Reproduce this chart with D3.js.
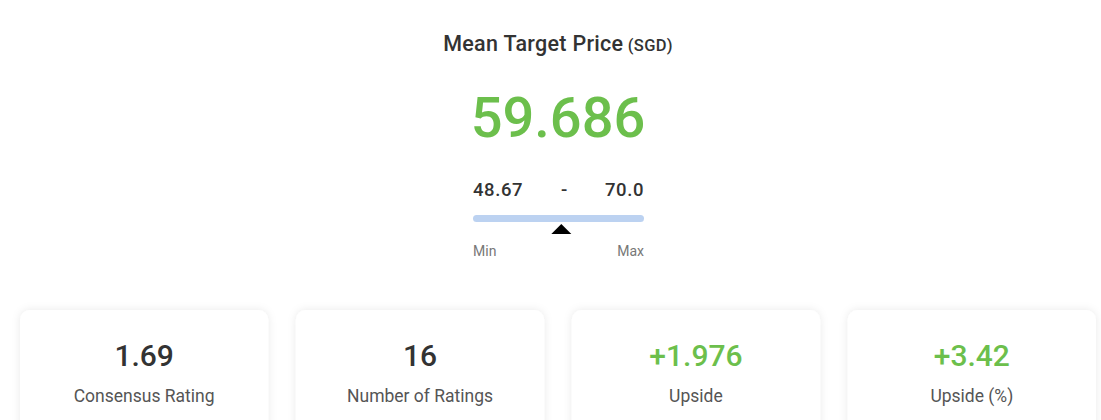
<!DOCTYPE html>
<html lang="en">
<head>
    <meta charset="UTF-8">
    <title>Mean Target Price</title>
    <script src="https://cdn.jsdelivr.net/npm/d3@7"></script>
    <style>
        *{
            margin: 0;
            padding: 0;
        }
        body{
            background: #fff;
            font-family: Roboto, "Noto Sans", sans-serif;
        }
    </style>
</head>
<body>
    <div id="content"></div>

    <script>
        // data
        var titleMain = "Mean Target Price";
        var titleUnit = "(SGD)";
        var meanTarget = 59.686;
        var priceRange = [48.67, 70.0];
        var rangeLabels = ["Min", "Max"];
        var cardLabels = ["Consensus Rating", "Number of Ratings", "Upside", "Upside (%)"];
        var cardValues = ["1.69", "16", "+1.976", "+3.42"];
        var cardGreen = [false, false, true, true];

        var width = 1101;
        var height = 420;
        var green = "#6cbf4c";
        var dark = "#333";

        var svg = d3.select("#content")
                .append("svg")
                .attr("width", width).attr("height", height);

        // soft card shadow
        var defs = svg.append("defs");
        var f = defs.append("filter").attr("id", "shadow")
                .attr("x", "-10%").attr("y", "-20%").attr("width", "120%").attr("height", "140%");
        f.append("feDropShadow").attr("dx", 0).attr("dy", 0).attr("stdDeviation", 4.5)
                .attr("flood-color", "#000").attr("flood-opacity", 0.09);

        var cx = 558;

        /* title */
        var title = svg.append("text")
                .attr("x", cx).attr("y", 51)
                .attr("text-anchor", "middle")
                .attr("fill", dark)
                .attr("letter-spacing", "0.3px");
        title.append("tspan").text(titleMain)
                .attr("font-size", "21.5px").attr("font-weight", 500);
        title.append("tspan").text(" " + titleUnit)
                .attr("font-size", "16.5px").attr("font-weight", 500);

        /* big number */
        svg.append("text")
                .attr("x", cx).attr("y", 137)
                .attr("text-anchor", "middle")
                .attr("fill", green)
                .attr("font-size", "56px")
                .attr("font-weight", 500)
                .text(meanTarget);

        /* range bar */
        var xScale = d3.scaleLinear()
                .domain(priceRange)
                .range([473, 644]);

        var rangeText = [
            {t: String(priceRange[0]), x: xScale(priceRange[0]), a: "start"},
            {t: "-", x: (xScale.range()[0] + xScale.range()[1]) / 2 + 6, a: "middle"},
            {t: priceRange[1].toFixed(1), x: xScale(priceRange[1]), a: "end"}
        ];
        svg.selectAll("text.range").data(rangeText)
                .enter().append("text")
                .attr("class", "range")
                .attr("x", function(d){ return d.x; }).attr("y", 196)
                .attr("text-anchor", function(d){ return d.a; })
                .attr("font-size", "18.5px").attr("font-weight", 500)
                .attr("letter-spacing", "0.6px")
                .attr("fill", dark)
                .text(function(d){ return d.t; });

        svg.append("rect")
                .attr("x", xScale(priceRange[0])).attr("y", 215)
                .attr("width", xScale(priceRange[1]) - xScale(priceRange[0]))
                .attr("height", 7).attr("rx", 3.5)
                .attr("fill", "#bcd2f1");

        var mx = xScale(meanTarget);
        svg.append("path")
                .attr("d", d3.line()([[mx - 10, 234], [mx, 224], [mx + 10, 234]]) + "Z")
                .attr("fill", "#000");

        svg.append("text")
                .attr("x", xScale(priceRange[0])).attr("y", 256)
                .attr("font-size", "14px").attr("fill", "#777")
                .text(rangeLabels[0]);
        svg.append("text")
                .attr("x", xScale(priceRange[1])).attr("y", 256)
                .attr("text-anchor", "end")
                .attr("font-size", "14px").attr("fill", "#777")
                .text(rangeLabels[1]);

        /* cards */
        var cardScale = d3.scaleBand()
                .domain(cardLabels)
                .range([20, 1096])
                .paddingInner(0.1);

        var cards = svg.selectAll("g.card").data(cardLabels)
                .enter().append("g")
                .attr("class", "card")
                .attr("transform", function(d){
                    return "translate(" + cardScale(d) + ",310)";
                });

        cards.append("rect")
                .attr("width", cardScale.bandwidth())
                .attr("height", 130)
                .attr("rx", 10)
                .attr("fill", "#fff")
                .attr("filter", "url(#shadow)");

        cards.append("text")
                .attr("x", cardScale.bandwidth() / 2).attr("y", 56)
                .attr("text-anchor", "middle")
                .attr("font-size", "30px").attr("font-weight", 500)
                .attr("fill", function(d, i){ return cardGreen[i] ? green : dark; })
                .text(function(d, i){ return cardValues[i]; });

        cards.append("text")
                .attr("x", cardScale.bandwidth() / 2).attr("y", 92)
                .attr("text-anchor", "middle")
                .attr("font-size", "17.5px")
                .attr("fill", "#555")
                .text(function(d){ return d; });
    </script>
</body>
</html>
